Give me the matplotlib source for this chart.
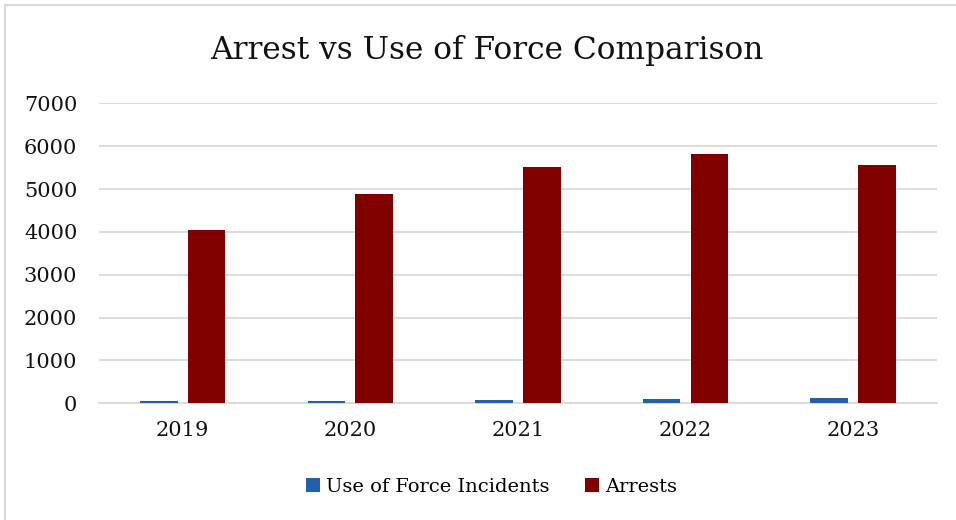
import numpy as np
import matplotlib.pyplot as plt
from matplotlib.lines import Line2D

# Yearly counts
years = ["2019", "2020", "2021", "2022", "2023"]
use_of_force = [65, 62, 68, 95, 130]
arrests = [4050, 4880, 5520, 5820, 5560]

blue = "#2161A8"
maroon = "#800000"
grid_color = "#D9D9D9"

plt.rcParams['font.family'] = ['DejaVu Serif']

fig = plt.figure(figsize=(9.56, 5.2), dpi=100)
ax = fig.add_axes([0.1034, 0.2244, 0.8766, 0.5769])

x = np.arange(len(years))
width = 0.224
offset = 0.1425
ax.bar(x - offset, use_of_force, width, color=blue, label="Use of Force Incidents", zorder=3)
ax.bar(x + offset, arrests, width, color=maroon, label="Arrests", zorder=3)

ax.set_xlim(-0.5, len(years) - 0.5)
ax.set_ylim(0, 7000)
ax.set_yticks(range(0, 7001, 1000))
ax.set_xticks(x)
ax.set_xticklabels(years)
ax.yaxis.grid(True, color=grid_color, linewidth=1.3, zorder=0)
ax.tick_params(axis='both', length=0, labelsize=15, colors="#111111")
ax.tick_params(axis='x', pad=13)
ax.tick_params(axis='y', pad=15.5)
for side in ["top", "right", "left"]:
    ax.spines[side].set_visible(False)
ax.spines["bottom"].set_color(grid_color)
ax.spines["bottom"].set_linewidth(1.3)

fig.text(0.509, 0.903, "Arrest vs Use of Force Comparison", ha="center", va="center",
         fontsize=22.5, color="#111111")

fig.legend(loc="center", bbox_to_anchor=(0.514, 0.064), ncol=2, frameon=False,
           fontsize=14, handlelength=0.75, handleheight=0.75, handletextpad=0.3,
           columnspacing=1.8)

# thin frame along the top and left edges
fig.add_artist(Line2D([5 / 956, 1], [1 - 5 / 520, 1 - 5 / 520], color=grid_color,
                      linewidth=1.5, transform=fig.transFigure))
fig.add_artist(Line2D([5 / 956, 5 / 956], [0, 1 - 5 / 520], color=grid_color,
                      linewidth=1.5, transform=fig.transFigure))

fig.savefig("out.png", dpi=100)
